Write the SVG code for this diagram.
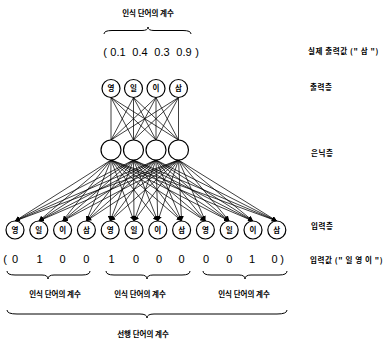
<svg xmlns="http://www.w3.org/2000/svg" width="392" height="343" viewBox="0 0 392 343">
<defs>
<style>
.k{font-family:"Noto Sans CJK KR",sans-serif;font-weight:bold;font-size:7.5px;fill:#000}
.s{letter-spacing:0.6px}
.n{font-family:"Liberation Sans",Arial,sans-serif;font-size:11px;fill:#000;text-anchor:middle}
.node circle{fill:#fff;stroke:#000;stroke-width:1.2}
.node text{font-family:"Noto Sans CJK KR",sans-serif;font-weight:bold;font-size:7.5px;text-anchor:middle}
.ln line{stroke:#000;stroke-width:0.75}
.br{fill:none;stroke:#000;stroke-width:1}
</style>
<marker id="ah" viewBox="0 0 6 6" refX="6" refY="3" markerWidth="5" markerHeight="5" orient="auto" markerUnits="userSpaceOnUse">
<path d="M0,0 L6,3 L0,6 z" fill="#000"/>
</marker>
</defs>
<rect width="392" height="343" fill="#fff"/>

<g id="connectors" class="ln">
<line x1="111" y1="97.5" x2="111" y2="140"/><line x1="111" y1="97.5" x2="133.5" y2="140"/><line x1="111" y1="97.5" x2="156" y2="140"/><line x1="111" y1="97.5" x2="178.5" y2="140"/>
<line x1="133.5" y1="97.5" x2="111" y2="140"/><line x1="133.5" y1="97.5" x2="133.5" y2="140"/><line x1="133.5" y1="97.5" x2="156" y2="140"/><line x1="133.5" y1="97.5" x2="178.5" y2="140"/>
<line x1="156" y1="97.5" x2="111" y2="140"/><line x1="156" y1="97.5" x2="133.5" y2="140"/><line x1="156" y1="97.5" x2="156" y2="140"/><line x1="156" y1="97.5" x2="178.5" y2="140"/>
<line x1="178.5" y1="97.5" x2="111" y2="140"/><line x1="178.5" y1="97.5" x2="133.5" y2="140"/><line x1="178.5" y1="97.5" x2="156" y2="140"/><line x1="178.5" y1="97.5" x2="178.5" y2="140"/>
<g marker-end="url(#ah)">
<line x1="111" y1="160" x2="15" y2="221"/><line x1="111" y1="160" x2="38.8" y2="221"/><line x1="111" y1="160" x2="62.6" y2="221"/><line x1="111" y1="160" x2="86.4" y2="221"/><line x1="111" y1="160" x2="110.2" y2="221"/><line x1="111" y1="160" x2="134" y2="221"/><line x1="111" y1="160" x2="157.8" y2="221"/><line x1="111" y1="160" x2="181.6" y2="221"/><line x1="111" y1="160" x2="205.4" y2="221"/><line x1="111" y1="160" x2="229.2" y2="221"/><line x1="111" y1="160" x2="253" y2="221"/><line x1="111" y1="160" x2="276.8" y2="221"/>
<line x1="133.5" y1="160" x2="15" y2="221"/><line x1="133.5" y1="160" x2="38.8" y2="221"/><line x1="133.5" y1="160" x2="62.6" y2="221"/><line x1="133.5" y1="160" x2="86.4" y2="221"/><line x1="133.5" y1="160" x2="110.2" y2="221"/><line x1="133.5" y1="160" x2="134" y2="221"/><line x1="133.5" y1="160" x2="157.8" y2="221"/><line x1="133.5" y1="160" x2="181.6" y2="221"/><line x1="133.5" y1="160" x2="205.4" y2="221"/><line x1="133.5" y1="160" x2="229.2" y2="221"/><line x1="133.5" y1="160" x2="253" y2="221"/><line x1="133.5" y1="160" x2="276.8" y2="221"/>
<line x1="156" y1="160" x2="15" y2="221"/><line x1="156" y1="160" x2="38.8" y2="221"/><line x1="156" y1="160" x2="62.6" y2="221"/><line x1="156" y1="160" x2="86.4" y2="221"/><line x1="156" y1="160" x2="110.2" y2="221"/><line x1="156" y1="160" x2="134" y2="221"/><line x1="156" y1="160" x2="157.8" y2="221"/><line x1="156" y1="160" x2="181.6" y2="221"/><line x1="156" y1="160" x2="205.4" y2="221"/><line x1="156" y1="160" x2="229.2" y2="221"/><line x1="156" y1="160" x2="253" y2="221"/><line x1="156" y1="160" x2="276.8" y2="221"/>
<line x1="178.5" y1="160" x2="15" y2="221"/><line x1="178.5" y1="160" x2="38.8" y2="221"/><line x1="178.5" y1="160" x2="62.6" y2="221"/><line x1="178.5" y1="160" x2="86.4" y2="221"/><line x1="178.5" y1="160" x2="110.2" y2="221"/><line x1="178.5" y1="160" x2="134" y2="221"/><line x1="178.5" y1="160" x2="157.8" y2="221"/><line x1="178.5" y1="160" x2="181.6" y2="221"/><line x1="178.5" y1="160" x2="205.4" y2="221"/><line x1="178.5" y1="160" x2="229.2" y2="221"/><line x1="178.5" y1="160" x2="253" y2="221"/><line x1="178.5" y1="160" x2="276.8" y2="221"/>
</g>
</g>

<g id="output-layer">
<g id="out0" class="node"><circle cx="111" cy="88.5" r="9"/><text x="111" y="91.2">영</text></g>
<g id="out1" class="node"><circle cx="133.5" cy="88.5" r="9"/><text x="133.5" y="91.2">일</text></g>
<g id="out2" class="node"><circle cx="156" cy="88.5" r="9"/><text x="156" y="91.2">이</text></g>
<g id="out3" class="node"><circle cx="178.5" cy="88.5" r="9"/><text x="178.5" y="91.2">삼</text></g>
</g>
<g id="hidden-layer">
<g id="hid0" class="node"><circle cx="111" cy="150" r="10"/></g>
<g id="hid1" class="node"><circle cx="133.5" cy="150" r="10"/></g>
<g id="hid2" class="node"><circle cx="156" cy="150" r="10"/></g>
<g id="hid3" class="node"><circle cx="178.5" cy="150" r="10"/></g>
</g>
<g id="input-layer">
<g id="in0" class="node"><circle cx="15" cy="230" r="9"/><text x="15" y="232.7">영</text></g>
<g id="in1" class="node"><circle cx="38.8" cy="230" r="9"/><text x="38.8" y="232.7">일</text></g>
<g id="in2" class="node"><circle cx="62.6" cy="230" r="9"/><text x="62.6" y="232.7">이</text></g>
<g id="in3" class="node"><circle cx="86.4" cy="230" r="9"/><text x="86.4" y="232.7">삼</text></g>
<g id="in4" class="node"><circle cx="110.2" cy="230" r="9"/><text x="110.2" y="232.7">영</text></g>
<g id="in5" class="node"><circle cx="134" cy="230" r="9"/><text x="134" y="232.7">일</text></g>
<g id="in6" class="node"><circle cx="157.8" cy="230" r="9"/><text x="157.8" y="232.7">이</text></g>
<g id="in7" class="node"><circle cx="181.6" cy="230" r="9"/><text x="181.6" y="232.7">삼</text></g>
<g id="in8" class="node"><circle cx="205.4" cy="230" r="9"/><text x="205.4" y="232.7">영</text></g>
<g id="in9" class="node"><circle cx="229.2" cy="230" r="9"/><text x="229.2" y="232.7">일</text></g>
<g id="in10" class="node"><circle cx="253" cy="230" r="9"/><text x="253" y="232.7">이</text></g>
<g id="in11" class="node"><circle cx="276.8" cy="230" r="9"/><text x="276.8" y="232.7">삼</text></g>
</g>

<g id="top-labels">
<text class="k" x="148" y="16" text-anchor="middle">인식 단어의 계수</text>
<path class="br" d="M104,34 Q104,30.5 112,30.5 L142,30.5 Q148,30.5 148,27 Q148,30.5 154,30.5 L183,30.5 Q191,30.5 191,34"/>
<text class="n" x="105" y="56">(</text>
<text class="n" x="118" y="56">0.1</text>
<text class="n" x="140" y="56">0.4</text>
<text class="n" x="162" y="56">0.3</text>
<text class="n" x="184" y="56">0.9</text>
<text class="n" x="197" y="56">)</text>
</g>

<g id="input-values">
<text class="n" x="5" y="263">(</text>
<text class="n" x="15" y="263">0</text><text class="n" x="39.5" y="263">1</text><text class="n" x="62.6" y="263">0</text><text class="n" x="86.4" y="263">0</text>
<text class="n" x="111.5" y="263">1</text><text class="n" x="136" y="263">0</text><text class="n" x="159" y="263">0</text><text class="n" x="181.6" y="263">0</text>
<text class="n" x="206" y="263">0</text><text class="n" x="229.2" y="263">0</text><text class="n" x="252" y="263">1</text><text class="n" x="274.5" y="263">0</text>
<text class="n" x="282" y="263">)</text>
</g>

<g id="bottom-braces">
<path class="br" d="M7,271 Q7,275 15,275 L42,275 Q48,275 48,279 Q48,275 54,275 L82,275 Q90,275 90,271"/>
<path class="br" d="M106,271 Q106,275 114,275 L141,275 Q147,275 147,279 Q147,275 153,275 L182,275 Q190,275 190,271"/>
<path class="br" d="M203,271 Q203,275 211,275 L239,275 Q245,275 245,279 Q245,275 251,275 L279,275 Q287,275 287,271"/>
<text class="k" x="55" y="297" text-anchor="middle">인식 단어의 계수</text>
<text class="k" x="140" y="297" text-anchor="middle">인식 단어의 계수</text>
<text class="k" x="244" y="297" text-anchor="middle">인식 단어의 계수</text>
<path class="br" d="M7,310 Q7,314 17,314 L140,314 Q147,314 147,318 Q147,314 154,314 L277,314 Q287,314 287,310"/>
<text class="k" x="143" y="337" text-anchor="middle">선행 단어의 계수</text>
</g>

<g id="side-labels">
<text class="k s" x="308" y="54">실제 출력값 (" 삼 ")</text>
<text class="k s" x="310" y="90">출력층</text>
<text class="k s" x="311" y="156">은닉층</text>
<text class="k s" x="311" y="229">입력층</text>
<text class="k s" x="310" y="263">입력값 (" 일 영 이 ")</text>
</g>
</svg>
